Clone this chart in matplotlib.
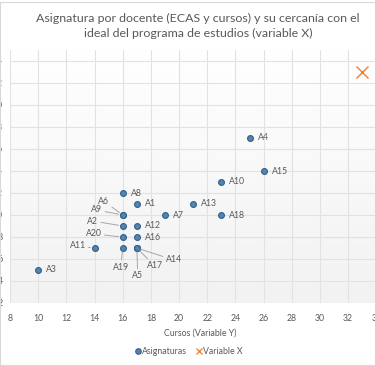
import matplotlib
matplotlib.use("Agg")
import matplotlib.pyplot as plt
import numpy as np
from matplotlib.patches import Rectangle
from matplotlib.lines import Line2D

# ---- data ----
labels = ['A1', 'A2', 'A3', 'A4', 'A5', 'A6', 'A7', 'A8', 'A9', 'A10',
          'A11', 'A12', 'A13', 'A14', 'A15', 'A16', 'A17', 'A18', 'A19', 'A20']
cursos = [17, 16, 10, 25, 17, 16, 19, 16, 16, 23,
          14, 17, 21, 17, 26, 17, 17, 23, 16, 16]
ecas = [21, 19, 15, 27, 17, 20, 20, 22, 20, 23,
        17, 19, 21, 17, 24, 18, 17, 20, 17, 18]
ideal_x = [33]
ideal_y = [33]
xticks = list(range(8, 36, 2))
yticks = list(range(12, 36, 2))

title = "Asignatura por docente (ECAS y cursos) y su cercanía con el\nideal del programa de estudios (variable X)"
xlabel = "Cursos (Variable Y)"

# ---- style ----
plt.rcParams['font.family'] = ['Lato', 'DejaVu Sans']
W, H = 375, 366
fig = plt.figure(figsize=(W / 100, H / 100), dpi=100)
fig.patch.set_facecolor('white')

px_per_x = 14.09
ax_left, ax_bottom, ax_top = 10, 303, 50
ax = fig.add_axes([ax_left / W, (H - ax_bottom) / H,
                   27 * px_per_x / W, (ax_bottom - ax_top) / H])
ax.set_xlim(8, 35)
ax.set_ylim(12, 35)

# gradient background
grad = np.linspace(1.0, 0.0, 256).reshape(-1, 1)
ax.imshow(grad, extent=[0, 1, 0, 1], transform=ax.transAxes, aspect='auto',
          cmap=matplotlib.colors.LinearSegmentedColormap.from_list('g', ['#f2f2f2', '#ffffff']),
          zorder=0, origin='upper')
ax.set_facecolor('white')

fs = 6.3
ax.set_xticks(xticks)
ax.set_yticks(yticks)
ax.grid(True, color='#e2e2e2', linewidth=0.8, zorder=1)
ax.set_axisbelow(True)
for s in ax.spines.values():
    s.set_visible(False)
ax.tick_params(axis='both', length=0, labelsize=fs, colors='#595959')
ax.tick_params(axis='x', pad=8)
ax.tick_params(axis='y', pad=5)

ax.set_xlabel(xlabel, fontsize=fs, color='#595959', labelpad=4)

blue = '#5585ae'
edge = '#2f5f8a'
ax.plot(cursos, ecas, linestyle='none', marker='o', markersize=4.2,
        markerfacecolor=blue, markeredgecolor=edge, markeredgewidth=0.8, zorder=4)
ax.plot(ideal_x, ideal_y, linestyle='none', marker='x', markersize=9,
        markeredgecolor='#ed7d31', markeredgewidth=1.0, zorder=4)

# label offsets in pixels (center of text relative to point); others sit right of point
leader = {
    'A6': (-19, 14), 'A9': (-26, 5), 'A2': (-30, 5), 'A20': (-29, 3),
    'A11': (-17, 2), 'A19': (-2, -19), 'A5': (1, -28), 'A17': (18, -18),
    'A14': (37, -12),
}
for lab, x, y in zip(labels, cursos, ecas):
    if lab in leader:
        dx, dy = leader[lab]
        ax.annotate(lab, (x, y), xytext=(dx, dy), textcoords='offset pixels',
                    ha='center', va='center', fontsize=fs, color='#595959',
                    arrowprops=dict(arrowstyle='-', color='#a6a6a6', lw=0.7,
                                    shrinkA=0, shrinkB=3), zorder=5)
    else:
        ax.annotate(lab, (x, y), xytext=(8, 0), textcoords='offset pixels',
                    ha='left', va='center', fontsize=fs, color='#595959', zorder=5)

fig.text(198 / W, 1 - 26 / H, title, ha='center', va='center', fontsize=8.9,
         color='#595959', linespacing=1.5)

handles = [Line2D([], [], linestyle='none', marker='o', markersize=4.0,
                  markerfacecolor=blue, markeredgecolor=edge, markeredgewidth=0.8),
           Line2D([], [], linestyle='none', marker='x', markersize=5.0,
                  markeredgecolor='#ed7d31', markeredgewidth=0.9)]
leg = fig.legend(handles, ['Asignaturas', 'Variable X'], loc='center',
                 bbox_to_anchor=(189 / W, 1 - 352 / H), ncol=2, frameon=False,
                 fontsize=fs, handlelength=0.5, handletextpad=0.15, columnspacing=1.2,
                 labelcolor='#595959')

fig.patches.append(Rectangle((0.0, 1 / H), 1.2, 1 - 2.5 / H, transform=fig.transFigure,
                             fill=False, edgecolor='#d9d9d9', linewidth=0.8))

fig.savefig('out.png', dpi=100)
